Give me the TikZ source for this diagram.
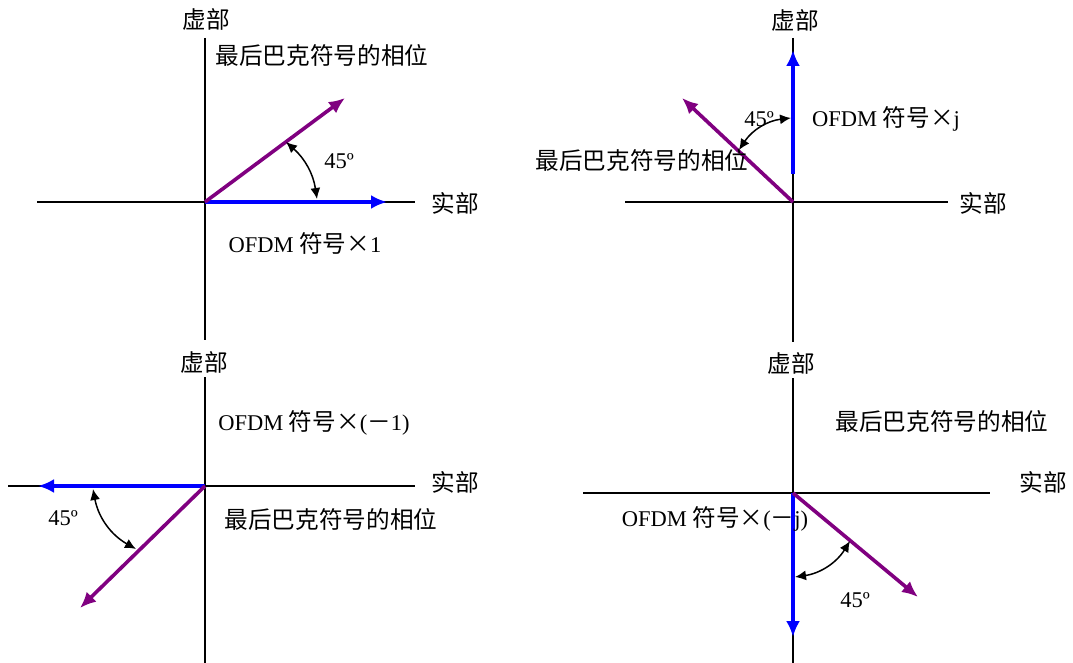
\documentclass[tikz,border=0pt]{standalone}
\usepackage{fontspec}
\setmainfont{Liberation Serif}
\newfontfamily\cjk[Scale=1.05]{Noto Sans CJK SC}
\usepackage{xcolor}
\usetikzlibrary{arrows.meta}
\definecolor{symblue}{RGB}{0,0,255}
\definecolor{phspurple}{RGB}{128,0,128}

\begin{document}
\begin{tikzpicture}[
  x=1pt, y=-1pt,
  axis/.style={line width=1.6pt},
  sym/.style={-{Latex[length=16pt,width=14pt]}, line width=3.6pt, draw=symblue},
  phs/.style={-{Latex[length=16pt,width=14pt]}, line width=3.6pt, draw=phspurple},
  ang/.style={{Latex[length=11pt,width=10pt]}-{Latex[length=11pt,width=10pt]}, line width=1.5pt},
  lbl/.style={inner sep=0pt, font=\fontsize{22.5}{26}\selectfont},
  zh/.style={lbl, font=\fontsize{22.5}{26}\selectfont\cjk},
]
\fill[white] (0,0) rectangle (1073,663);
\useasboundingbox (0,0) rectangle (1073,663);

% --- symbol x 1 ---
\coordinate (o1) at (205,202);
\coordinate (t1) at (205,38);  \coordinate (b1) at (205,340);
\coordinate (l1) at (37,202);  \coordinate (r1) at (415,202);
\draw[axis] (t1) -- (b1);
\draw[axis] (l1) -- (r1);
\coordinate (s1) at (387,202);
\coordinate (p1) at (345,98);
\draw[sym] (o1) -- (s1);
\draw[phs] (o1) -- (p1);
\coordinate (a1) at (286,142); \coordinate (c1) at (317,199);
\draw[ang] (a1) to[bend left=20] (c1);
\node[lbl] (deg1) at (339,161) {45º};
\node[zh] (im1) at (206,19) {虚部};
\node[zh] (re1) at (455,203) {实部};
\node[zh] (ph1) at (322,55) {最后巴克符号的相位};
\node[lbl] (sy1) at (305,243) {OFDM {\cjk 符号×}1};

% --- symbol x j ---
\coordinate (o2) at (793,202);
\coordinate (t2) at (793,38);  \coordinate (b2) at (793,342);
\coordinate (l2) at (625,202); \coordinate (r2) at (948,202);
\draw[axis] (t2) -- (b2);
\draw[axis] (l2) -- (r2);
\coordinate (q2) at (793,174);
\coordinate (s2) at (793,50);
\coordinate (p2) at (682,98);
\draw[sym] (q2) -- (s2);
\draw[phs] (o2) -- (p2);
\coordinate (a2) at (739,150); \coordinate (c2) at (791,118);
\draw[ang] (a2) to[bend left=25] (c2);
\node[lbl] (deg2) at (759,119) {45º};
\node[zh] (im2) at (795,20) {虚部};
\node[zh] (re2) at (983,203) {实部};
\node[zh] (ph2) at (642,160) {最后巴克符号的相位};
\node[lbl] (sy2) at (886,119) {OFDM {\cjk 符号×}j};

% --- symbol x (-1) ---
\coordinate (o3) at (205,486);
\coordinate (t3) at (205,377); \coordinate (b3) at (205,663);
\coordinate (l3) at (8,486);   \coordinate (r3) at (415,486);
\draw[axis] (t3) -- (b3);
\draw[axis] (l3) -- (r3);
\coordinate (s3) at (38,486);
\coordinate (p3) at (80,608);
\draw[sym] (o3) -- (s3);
\draw[phs] (o3) -- (p3);
\coordinate (a3) at (136,549); \coordinate (c3) at (93,489);
\draw[ang] (a3) to[bend left=25] (c3);
\node[lbl] (deg3) at (63,518) {45º};
\node[zh] (im3) at (204,362) {虚部};
\node[zh] (re3) at (455,482) {实部};
\node[zh] (ph3) at (331,519) {最后巴克符号的相位};
\node[lbl] (sy3) at (314,423) {OFDM {\cjk 符号×}({\cjk －}1)};

% --- symbol x (-j) ---
\coordinate (o4) at (793,493);
\coordinate (t4) at (793,378); \coordinate (b4) at (793,663);
\coordinate (l4) at (583,493); \coordinate (r4) at (990,493);
\draw[axis] (t4) -- (b4);
\draw[axis] (l4) -- (r4);
\coordinate (s4) at (793,637);
\coordinate (p4) at (918,597);
\draw[sym] (o4) -- (s4);
\draw[phs] (o4) -- (p4);
\coordinate (a4) at (850,541); \coordinate (c4) at (795,577);
\draw[ang] (a4) to[bend left=25] (c4);
\node[lbl] (deg4) at (855,600) {45º};
\node[zh] (im4) at (791,363) {虚部};
\node[zh] (re4) at (1043,482) {实部};
\node[zh] (ph4) at (942,421) {最后巴克符号的相位};
\node[lbl] (sy4) at (715,519) {OFDM {\cjk 符号×}({\cjk －}j)};
\end{tikzpicture}
\end{document}
